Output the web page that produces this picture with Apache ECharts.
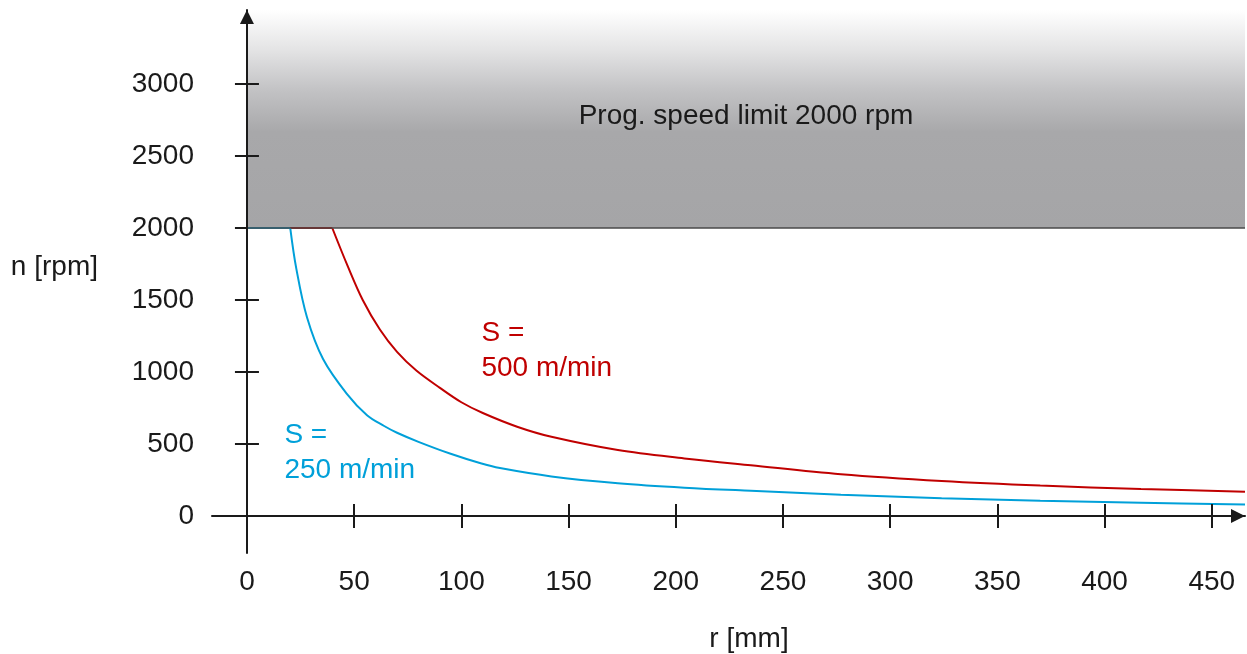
<!DOCTYPE html>
<html>
<head>
<meta charset="utf-8">
<script src="https://cdn.jsdelivr.net/npm/echarts@6/dist/echarts.min.js"></script>
<style>
html,body{margin:0;padding:0;background:#fff;}
#c{width:1247px;height:654px;}
</style>
</head>
<body>
<div id="c"></div>
<script>
// ---- data ----
const xTickValues = [0, 50, 100, 150, 200, 250, 300, 350, 400, 450];
const yTickValues = [0, 500, 1000, 1500, 2000, 2500, 3000];
const speedLimit = 2000;

// S = 500 m/min
const redR = [0, 39.8, 47, 54, 62, 70, 79, 90, 100, 110, 126, 142, 173, 204, 235, 277, 324, 370, 417, 465.5];
const redN = [2000, 2000, 1735, 1500, 1295, 1140, 1010, 890, 790, 715, 620, 550, 458, 400, 352, 290, 243, 211, 188, 169];

// S = 250 m/min
const cyanR = [0, 20.2, 23, 28, 35.5, 46.5, 56, 64, 70, 80, 95, 109, 118, 142, 173, 204, 235, 277, 324, 370, 417, 465.5];
const cyanN = [2000, 2000, 1720, 1380, 1090, 850, 700, 625, 578, 515, 432, 366, 333, 275, 228, 197, 175, 148, 123, 106, 92, 79];

const labelRed = 'S =\n500 m/min';
const labelCyan = 'S =\n250 m/min';
const labelLimit = 'Prog. speed limit 2000 rpm';

// ---- build ----
const FONT = '"Liberation Sans", Arial, sans-serif';
const FS = 28;
const INK = '#1a1a1a';
const RED = '#c00000';
const CYAN = '#00a0d9';

const pairs = (xs, ys) => xs.map((x, i) => [x, ys[i]]);
const red = pairs(redR, redN);
const cyan = pairs(cyanR, cyanN);

const X_MIN = -16.3, X_MAX = 465.5, Y_MIN = -257, Y_MAX = 3514;
const plain = v => String(v);

const axisLineStyle = { color: INK, width: 2 };

const chart = echarts.init(document.getElementById('c'), null, { renderer: 'canvas' });
chart.setOption({
  animation: false,
  backgroundColor: '#ffffff',
  grid: { left: 212, right: 2, top: 10, bottom: 101, containLabel: false, outerBoundsMode: 'none' },
  xAxis: [{
    type: 'value', min: X_MIN, max: X_MAX, position: 'bottom', z: 10,
    axisLine: { show: true, onZero: true, onZeroAxisIndex: 0, lineStyle: axisLineStyle,
      symbol: ['none', 'triangle'], symbolSize: [14, 14], symbolOffset: [0, -7] },
    axisTick: { show: true, length: 12, lineStyle: axisLineStyle, customValues: xTickValues.slice(1) },
    axisLabel: { show: true, margin: 15, fontSize: FS, color: INK, fontFamily: FONT,
      customValues: xTickValues, formatter: plain },
    splitLine: { show: false },
    name: 'r [mm]', nameLocation: 'middle', nameGap: 72,
    nameTextStyle: { fontSize: FS, color: INK, fontFamily: FONT, padding: [0, 0, 0, 41] }
  }, {
    type: 'value', min: X_MIN, max: X_MAX, position: 'bottom', z: 10,
    axisLine: { show: false, onZero: true, onZeroAxisIndex: 0 },
    axisTick: { show: true, inside: true, length: 12, lineStyle: axisLineStyle, customValues: xTickValues.slice(1) },
    axisLabel: { show: false },
    splitLine: { show: false }
  }],
  yAxis: [{
    type: 'value', min: Y_MIN, max: Y_MAX, position: 'left', z: 10,
    axisLine: { show: true, onZero: true, onZeroAxisIndex: 0, lineStyle: axisLineStyle,
      symbol: ['none', 'triangle'], symbolSize: [14, 14], symbolOffset: [0, -7] },
    axisTick: { show: true, length: 12, lineStyle: axisLineStyle, customValues: yTickValues.slice(1) },
    axisLabel: { show: true, margin: 18, fontSize: FS, color: INK, fontFamily: FONT,
      customValues: yTickValues, formatter: plain },
    splitLine: { show: false },
    name: 'n [rpm]', nameLocation: 'middle', nameGap: 114, nameRotate: 0,
    nameTextStyle: { fontSize: FS, color: INK, fontFamily: FONT, verticalAlign: 'bottom', padding: [0, 0, 0, 0] }
  }, {
    type: 'value', min: Y_MIN, max: Y_MAX, position: 'left', z: 10,
    axisLine: { show: false, onZero: true, onZeroAxisIndex: 0 },
    axisTick: { show: true, inside: true, length: 12, lineStyle: axisLineStyle,
      customValues: yTickValues.filter(v => v > 0 && v !== speedLimit) },
    axisLabel: { show: false },
    splitLine: { show: false }
  }],
  series: [
    {
      name: 'limit', type: 'line', data: [], z: 1, silent: true,
      markArea: {
        silent: true,
        itemStyle: {
          color: new echarts.graphic.LinearGradient(0, 0, 0, 1, [
            { offset: 0, color: '#ffffff' },
            { offset: 0.18, color: '#e4e4e5' },
            { offset: 0.37, color: '#c2c2c4' },
            { offset: 0.56, color: '#a8a8aa' },
            { offset: 1, color: '#a5a5a7' }
          ]),
          borderWidth: 0
        },
        label: { show: true, position: 'inside', offset: [0, -3], fontSize: FS, color: INK, fontFamily: FONT },
        data: [[{ coord: [0, speedLimit], name: labelLimit }, { coord: [X_MAX, Y_MAX] }]]
      },
      markLine: {
        silent: true, symbol: ['none', 'none'],
        lineStyle: { color: '#4a4a4a', width: 1.5, type: 'solid' },
        label: { show: false },
        data: [[{ coord: [0, speedLimit] }, { coord: [X_MAX, speedLimit] }]]
      }
    },
    {
      name: 'S500 flat', type: 'line', data: red.slice(0, 2), showSymbol: false, z: 3,
      lineStyle: { color: RED, width: 2 }, itemStyle: { color: RED }
    },
    {
      name: 'S500', type: 'line', data: red.slice(1), showSymbol: false, smooth: 0.35, z: 3,
      lineStyle: { color: RED, width: 2 }, itemStyle: { color: RED },
      markPoint: {
        silent: true, symbol: 'rect', symbolSize: 1, itemStyle: { color: 'rgba(0,0,0,0)' },
        label: { show: true, position: [0, 0], align: 'left', verticalAlign: 'top',
          fontSize: FS, lineHeight: 35, color: RED, fontFamily: FONT, formatter: labelRed },
        data: [{ coord: [109.6, 1385] }]
      }
    },
    {
      name: 'S250 flat', type: 'line', data: cyan.slice(0, 2), showSymbol: false, z: 4,
      lineStyle: { color: CYAN, width: 2 }, itemStyle: { color: CYAN }
    },
    {
      name: 'S250', type: 'line', data: cyan.slice(1), showSymbol: false, smooth: 0.35, z: 4,
      lineStyle: { color: CYAN, width: 2 }, itemStyle: { color: CYAN },
      markPoint: {
        silent: true, symbol: 'rect', symbolSize: 1, itemStyle: { color: 'rgba(0,0,0,0)' },
        label: { show: true, position: [0, 0], align: 'left', verticalAlign: 'top',
          fontSize: FS, lineHeight: 35, color: CYAN, fontFamily: FONT, formatter: labelCyan },
        data: [{ coord: [17.7, 677] }]
      }
    }
  ]
});
</script>
</body>
</html>
